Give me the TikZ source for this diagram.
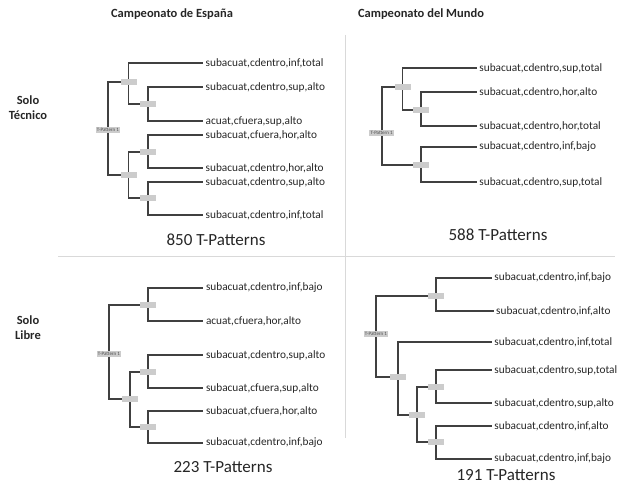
\documentclass[tikz,border=0pt]{standalone}
\usepackage{fontspec}
\setmainfont{Carlito}
\usetikzlibrary{backgrounds}
\begin{document}
\begin{tikzpicture}[x=1pt,y=-1pt,
    jn/.style={fill=black!20,minimum width=16pt,minimum height=5.5pt,inner sep=0pt},
    rootjn/.style={fill=black!20,font=\fontsize{5}{6}\selectfont,inner sep=1.2pt,text=black!70},
    leaf/.style={anchor=west,inner sep=2.5pt,font=\fontsize{11.3}{13}\selectfont,text=black!85},
    branch/.style={draw=black!75,line width=1.8pt},
    head/.style={font=\bfseries\fontsize{12.5}{15}\selectfont,text=black!85},
    rowhead/.style={head,align=center},
    count/.style={font=\fontsize{17}{19}\selectfont,text=black!85},
    sep/.style={draw=black!15,line width=0.8pt}]
    \useasboundingbox (0,0) rectangle (620,486);

    % headings and separators
    \node[head] (espana) at (172,14) {Campeonato de España};
    \node[head] (mundo) at (421,14) {Campeonato del Mundo};
    \node[rowhead] (tecnico) at (28,108) {Solo\\Técnico};
    \node[rowhead] (libre) at (28,328) {Solo\\Libre};
    \coordinate (vtop) at (345,35);
    \coordinate (vbot) at (345,438);
    \coordinate (hleft) at (58,256);
    \coordinate (hright) at (615,256);
    \draw[sep] (vtop) -- (vbot);
    \draw[sep] (hleft) -- (hright);

    % Campeonato de Espana, solo tecnico
    \node[rootjn] (ra) at (108,130) {T-Pattern 1};
    \node[jn] (a1) at (128.5,82) {};
    \node[jn] (a11) at (148,104) {};
    \node[jn] (a2) at (128.5,175) {};
    \node[jn] (a21) at (148,152) {};
    \node[jn] (a22) at (148,198) {};
    \node[leaf] (la1) at (203,63) {subacuat,cdentro,inf,total};
    \node[leaf] (la2) at (203,87) {subacuat,cdentro,sup,alto};
    \node[leaf] (la3) at (203,121) {acuat,cfuera,sup,alto};
    \node[leaf] (la4) at (203,135) {subacuat,cfuera,hor,alto};
    \node[leaf] (la5) at (203,168) {subacuat,cdentro,hor,alto};
    \node[leaf] (la6) at (203,182) {subacuat,cdentro,sup,alto};
    \node[leaf] (la7) at (203,215) {subacuat,cdentro,inf,total};
    \node[count] (ca) at (216,240) {850 T-Patterns};

    % Campeonato del Mundo, solo tecnico
    \node[rootjn] (rb) at (381.7,133) {T-Pattern 1};
    \node[jn] (b1) at (402.5,87) {};
    \node[jn] (b11) at (421,110) {};
    \node[jn] (b2) at (421,165) {};
    \node[leaf] (lb1) at (476.7,68) {subacuat,cdentro,sup,total};
    \node[leaf] (lb2) at (476.7,92) {subacuat,cdentro,hor,alto};
    \node[leaf] (lb3) at (476.7,126) {subacuat,cdentro,hor,total};
    \node[leaf] (lb4) at (476.7,147) {subacuat,cdentro,inf,bajo};
    \node[leaf] (lb5) at (476.7,182) {subacuat,cdentro,sup,total};
    \node[count] (cb) at (498,235) {588 T-Patterns};

    % Campeonato de Espana, solo libre
    \node[rootjn] (rc) at (109,354) {T-Pattern 1};
    \node[jn] (c1) at (148.3,305) {};
    \node[jn] (c2) at (130,399) {};
    \node[jn] (c21) at (148.3,372) {};
    \node[jn] (c22) at (148.3,427) {};
    \node[leaf] (lc1) at (203.3,288) {subacuat,cdentro,inf,bajo};
    \node[leaf] (lc2) at (203.3,321) {acuat,cfuera,hor,alto};
    \node[leaf] (lc3) at (203.3,355) {subacuat,cdentro,sup,alto};
    \node[leaf] (lc4) at (203.3,388) {subacuat,cfuera,sup,alto};
    \node[leaf] (lc5) at (203.3,411) {subacuat,cfuera,hor,alto};
    \node[leaf] (lc6) at (203.3,443) {subacuat,cdentro,inf,bajo};
    \node[count] (cc) at (223,466.7) {223 T-Patterns};

    % Campeonato del Mundo, solo libre
    \node[rootjn] (rd) at (376,334) {T-Pattern 1};
    \node[jn] (d1) at (436,296) {};
    \node[jn] (d2) at (398.3,377) {};
    \node[jn] (d21) at (416.7,415) {};
    \node[jn] (d211) at (436,387) {};
    \node[jn] (d212) at (436,442) {};
    \node[leaf] (ld1) at (491.7,278) {subacuat,cdentro,inf,bajo};
    \node[leaf] (ld2) at (493.5,311) {subacuat,cdentro,inf,alto};
    \node[leaf] (ld3) at (491.7,342) {subacuat,cdentro,inf,total};
    \node[leaf] (ld4) at (491.7,370) {subacuat,cdentro,sup,total};
    \node[leaf] (ld5) at (491.7,403) {subacuat,cdentro,sup,alto};
    \node[leaf] (ld6) at (491.7,426) {subacuat,cdentro,inf,alto};
    \node[leaf] (ld7) at (491.7,459) {subacuat,cdentro,inf,bajo};
    \node[count] (cd) at (506,475) {191 T-Patterns};

    % the branches, under the boxes
    \begin{pgfonlayer}{background}
    \draw[branch] (ra.center) |- (a1.center) (ra.center) |- (a2.center);
    \draw[branch] (a1.center) |- (la1.west) (a1.center) |- (a11.center);
    \draw[branch] (a11.center) |- (la2.west) (a11.center) |- (la3.west);
    \draw[branch] (a2.center) |- (a21.center) (a2.center) |- (a22.center);
    \draw[branch] (a21.center) |- (la4.west) (a21.center) |- (la5.west);
    \draw[branch] (a22.center) |- (la6.west) (a22.center) |- (la7.west);

    \draw[branch] (rb.center) |- (b1.center) (rb.center) |- (b2.center);
    \draw[branch] (b1.center) |- (lb1.west) (b1.center) |- (b11.center);
    \draw[branch] (b11.center) |- (lb2.west) (b11.center) |- (lb3.west);
    \draw[branch] (b2.center) |- (lb4.west) (b2.center) |- (lb5.west);

    \draw[branch] (rc.center) |- (c1.center) (rc.center) |- (c2.center);
    \draw[branch] (c1.center) |- (lc1.west) (c1.center) |- (lc2.west);
    \draw[branch] (c2.center) |- (c21.center) (c2.center) |- (c22.center);
    \draw[branch] (c21.center) |- (lc3.west) (c21.center) |- (lc4.west);
    \draw[branch] (c22.center) |- (lc5.west) (c22.center) |- (lc6.west);

    \draw[branch] (rd.center) |- (d1.center) (rd.center) |- (d2.center);
    \draw[branch] (d1.center) |- (ld1.west) (d1.center) |- (ld2.west);
    \draw[branch] (d2.center) |- (ld3.west) (d2.center) |- (d21.center);
    \draw[branch] (d21.center) |- (d211.center) (d21.center) |- (d212.center);
    \draw[branch] (d211.center) |- (ld4.west) (d211.center) |- (ld5.west);
    \draw[branch] (d212.center) |- (ld6.west) (d212.center) |- (ld7.west);
    \end{pgfonlayer}

\end{tikzpicture}
\end{document}
